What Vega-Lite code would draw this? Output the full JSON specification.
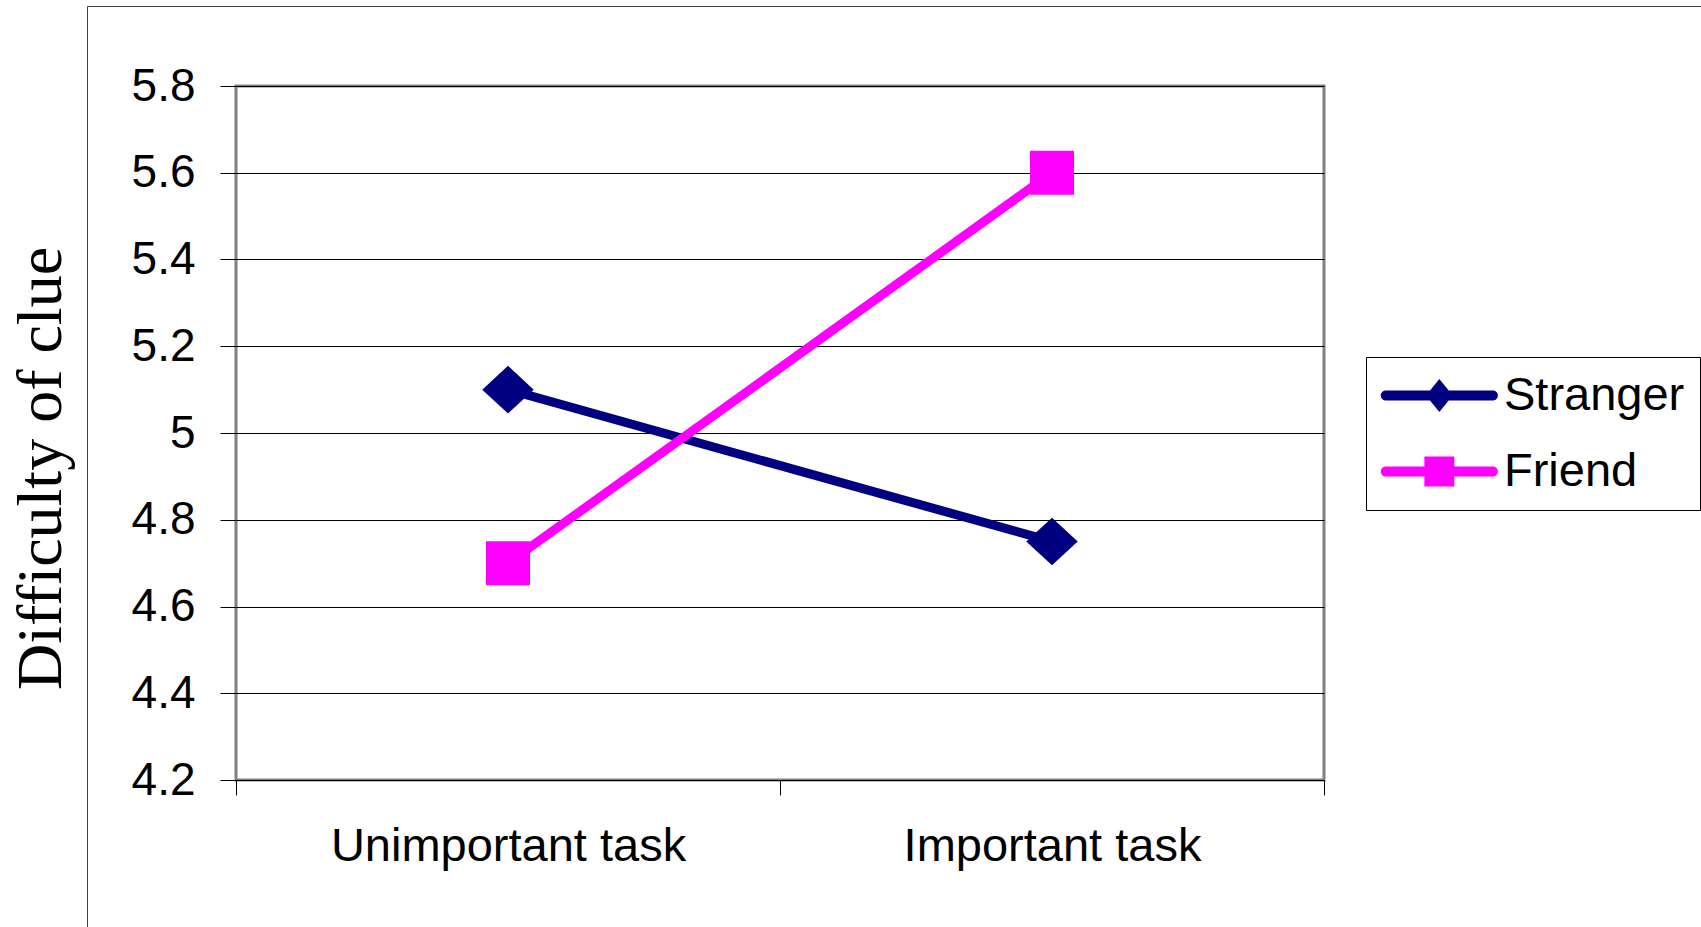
{
  "$schema": "https://vega.github.io/schema/vega-lite/v6.json",
  "width": 1088,
  "height": 694,
  "autosize": {"type": "none"},
  "padding": {"left": 236, "top": 86, "right": 377, "bottom": 147},
  "background": "white",
  "config": {
    "view": {"stroke": "#808080", "strokeWidth": 3},
    "font": "Liberation Sans"
  },
  "data": {
    "values": [
      {"task": "Unimportant task", "group": "Stranger", "difficulty": 5.1},
      {"task": "Important task", "group": "Stranger", "difficulty": 4.75},
      {"task": "Unimportant task", "group": "Friend", "difficulty": 4.7},
      {"task": "Important task", "group": "Friend", "difficulty": 5.6}
    ]
  },
  "encoding": {
    "x": {
      "field": "task",
      "type": "nominal",
      "sort": ["Unimportant task", "Important task"],
      "scale": {"type": "band", "paddingInner": 0, "paddingOuter": 0},
      "axis": {
        "title": null,
        "labelAngle": 0,
        "labelFontSize": 47,
        "labelFont": "Liberation Sans",
        "labelColor": "black",
        "labelPadding": 28,
        "labelLimit": 0,
        "tickBand": "extent",
        "ticks": true,
        "tickSize": 15,
        "tickColor": "black",
        "tickWidth": 1,
        "domain": false,
        "grid": false
      }
    },
    "y": {
      "field": "difficulty",
      "type": "quantitative",
      "scale": {"domain": [4.2, 5.8], "zero": false, "nice": false},
      "axis": {
        "title": "Difficulty of clue",
        "titleFont": "Liberation Serif",
        "titleFontSize": 64,
        "titleFontWeight": "normal",
        "titleColor": "black",
        "titleAngle": -90,
        "titleX": -176,
        "titleY": 382,
        "titleAlign": "center",
        "titleBaseline": "alphabetic",
        "values": [4.2, 4.4, 4.6, 4.8, 5.0, 5.2, 5.4, 5.6, 5.8],
        "format": ".1~f",
        "labelFontSize": 46,
        "labelFont": "Liberation Sans",
        "labelColor": "black",
        "labelPadding": 25,
        "tickSize": 16,
        "tickColor": "black",
        "tickWidth": 1,
        "domain": false,
        "grid": true,
        "gridColor": "black",
        "gridWidth": 1,
        "gridOpacity": 1
      }
    },
    "color": {
      "field": "group",
      "type": "nominal",
      "scale": {"domain": ["Stranger", "Friend"], "range": ["#000080", "#FF00FF"]},
      "legend": {
        "title": null,
        "orient": "none",
        "legendX": 1130,
        "legendY": 271,
        "strokeColor": "black",
        "padding": 15,
        "labelFontSize": 47,
        "labelFont": "Liberation Sans",
        "labelColor": "black",
        "labelLimit": 0,
        "labelOffset": 76,
        "symbolSize": 1156,
        "symbolStrokeWidth": 0,
        "symbolOpacity": 1,
        "rowPadding": 28,
        "encode": {
          "symbols": {
            "update": {
              "shape": {"signal": "datum.value === 'Stranger' ? 'M-1.1,-0.294H5.2A0.294,0.294 0 0 1 5.2,0.294H-1.1A0.294,0.294 0 0 1 -1.1,-0.294Z M2.05,-0.97L2.84,0L2.05,0.97L1.26,0Z' : 'M-1.1,-0.294H5.2A0.294,0.294 0 0 1 5.2,0.294H-1.1A0.294,0.294 0 0 1 -1.1,-0.294Z M1.17,-0.88H2.93V0.88H1.17Z'"},
              "fill": {"signal": "datum.value === 'Stranger' ? '#000080' : '#FF00FF'"},
              "strokeWidth": {"value": 0}
            }
          }
        }
      }
    }
  },
  "layer": [
    {"mark": {"type": "line", "strokeWidth": 9}},
    {
      "transform": [{"filter": "datum.group === 'Stranger'"}],
      "mark": {"type": "point", "filled": true, "opacity": 1, "shape": "M-1.17,0L0,-1.08L1.17,0L0,1.08Z"},
      "encoding": {
        "size": {
          "field": "task",
          "type": "nominal",
          "scale": {"range": [1936, 1936]},
          "legend": {
            "title": null,
            "orient": "none",
            "legendX": -149,
            "legendY": -80,
            "strokeColor": "#404040",
            "padding": 1000,
            "symbolOpacity": 0,
            "symbolSize": 1,
            "labelOpacity": 0,
            "labelFontSize": 1,
            "labelExpr": "''",
            "encode": {"legend": {"update": {"strokeWidth": {"value": 2}}}}
          }
        }
      }
    },
    {
      "transform": [{"filter": "datum.group === 'Friend'"}],
      "mark": {"type": "point", "filled": true, "opacity": 1, "size": 1936, "shape": "square"}
    }
  ]
}
